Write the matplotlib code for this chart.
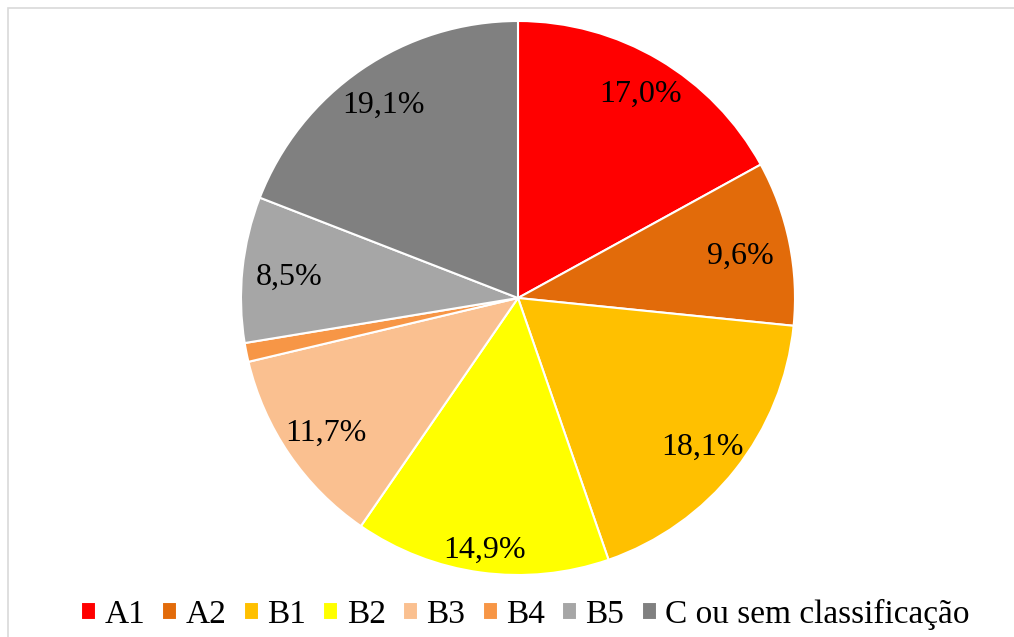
import numpy as np
import matplotlib
matplotlib.use("Agg")
import matplotlib.pyplot as plt
from matplotlib.patches import Rectangle

plt.rcParams['font.family'] = ['Liberation Serif', 'DejaVu Serif']

# share of each class (%)
categories = ['A1', 'A2', 'B1', 'B2', 'B3', 'B4', 'B5', 'C ou sem classificação']
shares = [17.0, 9.6, 18.1, 14.9, 11.7, 1.1, 8.5, 19.1]
colors = ['#FF0000', '#E26B0A', '#FFC000', '#FFFF00', '#FAC090', '#F79646', '#A6A6A6', '#808080']
# label distance from centre (fraction of radius), B4 has no label
label_dist = [0.87, 0.82, 0.85, 0.905, 0.84, None, 0.83, 0.86]

W, H = 1014, 637
fig = plt.figure(figsize=(W / 100, H / 100), dpi=100)

# light frame like the original chart area
fig.patches.append(Rectangle((8 / W, -0.1), 1.2, 1 - 8 / H + 0.1, transform=fig.transFigure,
                             fill=False, edgecolor='#D9D9D9', linewidth=1.2))

cx, cy, r = 518, 298, 277
ax = fig.add_axes([(cx - r) / W, (H - cy - r) / H, 2 * r / W, 2 * r / H])
wedges, _ = ax.pie(shares, colors=colors, startangle=90, counterclock=False, radius=1,
                   wedgeprops=dict(edgecolor='white', linewidth=1.5))
ax.set_xlim(-1, 1)
ax.set_ylim(-1, 1)
ax.set_aspect('equal')

for w, v, d in zip(wedges, shares, label_dist):
    if d is None:
        continue
    ang = np.deg2rad((w.theta1 + w.theta2) / 2)
    ax.text(d * np.cos(ang), d * np.sin(ang), f'{v:.1f}%'.replace('.', ','),
            ha='center', va='center_baseline', fontsize=23)

fig.legend(wedges, categories, loc='center', bbox_to_anchor=(0.518, 1 - 614 / H), ncol=8,
           frameon=False, fontsize=24, handlelength=0.45, handleheight=0.45,
           handletextpad=0.25, columnspacing=0.52, borderpad=0)

plt.savefig('out.png', dpi=100)
